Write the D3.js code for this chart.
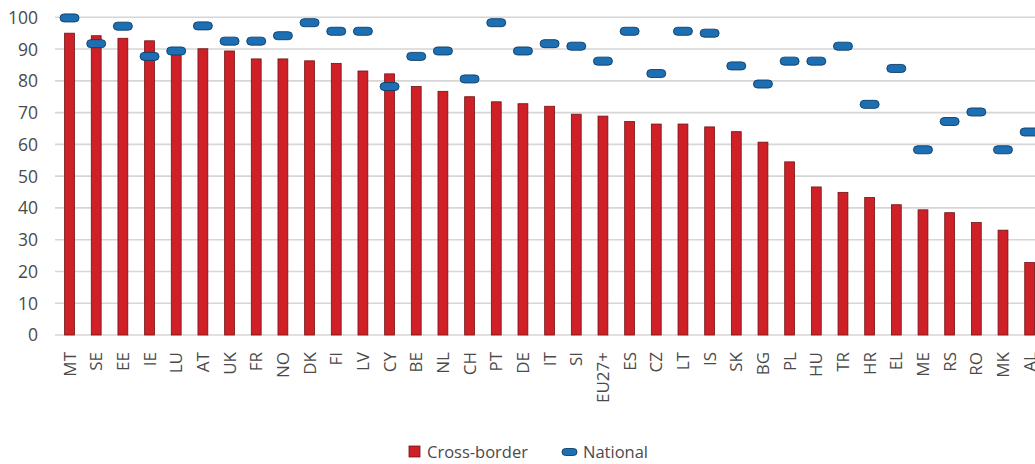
<!DOCTYPE html>
<html>
<head>
<meta charset="utf-8">
<script src="https://cdn.jsdelivr.net/npm/d3@7"></script>
<style>
  html, body { margin: 0; padding: 0; background: #fff; }
  svg { display: block; font-family: "Open Sans", sans-serif; }
</style>
</head>
<body>
<svg id="chart" width="1035" height="464"></svg>
<script>
// Country codes, in display order
const categories = ["MT","SE","EE","IE","LU","AT","UK","FR","NO","DK","FI","LV","CY","BE","NL","CH","PT","DE","IT","SI","EU27+","ES","CZ","LT","IS","SK","BG","PL","HU","TR","HR","EL","ME","RS","RO","MK","AL"];

// Cross-border share (%)
const crossBorder = [95,94.2,93.4,92.6,89.5,90.1,89.4,86.9,86.9,86.3,85.5,83.1,82.2,78.2,76.7,75,73.4,72.8,72,69.5,68.9,67.2,66.4,66.4,65.5,64,60.7,54.5,46.6,44.9,43.3,41,39.4,38.5,35.4,33,22.8];

// National share (%)
const national = [99.8,91.7,97.2,87.7,89.4,97.3,92.5,92.5,94.2,98.3,95.6,95.6,78.2,87.7,89.4,80.6,98.3,89.4,91.7,90.9,86.2,95.6,82.3,95.6,95,84.7,79,86.2,86.2,90.9,72.6,83.9,58.3,67.2,70.2,58.3,63.9];

// Axis ticks
const yTicks = [0,10,20,30,40,50,60,70,80,90,100];

const svg = d3.select("#chart");

const x = d3.scaleBand()
  .domain(categories)
  .range([56.2, 1043])
  .paddingInner(0.63)
  .paddingOuter(0.315);

const y = d3.scaleLinear().domain([0, 100]).range([335, 17.3]);

// Horizontal gridlines
svg.append("g")
  .selectAll("line")
  .data(yTicks)
  .join("line")
  .attr("x1", 55)
  .attr("x2", 1035)
  .attr("y1", d => y(d))
  .attr("y2", d => y(d))
  .attr("stroke", "#d6d6d6")
  .attr("stroke-width", 1.6);

// Y axis labels
const yAxis = d3.axisLeft(y).tickValues(yTicks).tickSize(0).tickPadding(0);
const gy = svg.append("g").attr("transform", "translate(38,0)").call(yAxis);
gy.select(".domain").remove();
gy.selectAll("text")
  .attr("font-size", 17.5)
  .attr("fill", "#4a4a4a")
  .attr("font-family", "'Open Sans', sans-serif")
  .attr("dy", "0.34em");

// Cross-border bars
svg.append("g")
  .selectAll("rect")
  .data(categories)
  .join("rect")
  .attr("x", d => x(d))
  .attr("width", x.bandwidth())
  .attr("y", (d, i) => y(crossBorder[i]))
  .attr("height", (d, i) => y(0) - y(crossBorder[i]))
  .attr("fill", "#cf1f27")
  .attr("stroke", "#6e1414")
  .attr("stroke-width", 0.8);

// National markers
const mw = 19, mh = 8;
svg.append("g")
  .selectAll("rect")
  .data(categories)
  .join("rect")
  .attr("x", d => x(d) + x.bandwidth() / 2 - mw / 2)
  .attr("y", (d, i) => y(national[i]) - mh / 2)
  .attr("width", mw)
  .attr("height", mh)
  .attr("rx", 4)
  .attr("ry", 4)
  .attr("fill", "#1d6fb3")
  .attr("stroke", "#0f3d66")
  .attr("stroke-width", 0.9);

// X axis labels (rotated)
const xAxis = d3.axisBottom(x).tickSize(0).tickPadding(0);
const gx = svg.append("g").attr("transform", "translate(0,352)").call(xAxis);
gx.select(".domain").remove();
gx.selectAll("text")
  .attr("font-size", 17)
  .attr("fill", "#4a4a4a")
  .attr("font-family", "'Open Sans', sans-serif")
  .attr("transform", "rotate(-90)")
  .attr("text-anchor", "end")
  .attr("x", 0)
  .attr("y", 0)
  .attr("dy", "0.36em");

// Legend
const legend = svg.append("g");
legend.append("rect")
  .attr("x", 409).attr("y", 446).attr("width", 11).attr("height", 11)
  .attr("fill", "#cf1f27").attr("stroke", "#6e1414").attr("stroke-width", 0.8);
legend.append("text")
  .attr("x", 427).attr("y", 452).attr("dy", "0.35em")
  .attr("font-size", 16.5).attr("fill", "#4a4a4a")
  .text("Cross-border");
legend.append("rect")
  .attr("x", 562).attr("y", 448.5).attr("width", 15).attr("height", 7)
  .attr("rx", 3.5).attr("ry", 3.5)
  .attr("fill", "#1d6fb3").attr("stroke", "#0f3d66").attr("stroke-width", 0.9);
legend.append("text")
  .attr("x", 583).attr("y", 452).attr("dy", "0.35em")
  .attr("font-size", 16.5).attr("fill", "#4a4a4a")
  .text("National");
</script>
</body>
</html>
